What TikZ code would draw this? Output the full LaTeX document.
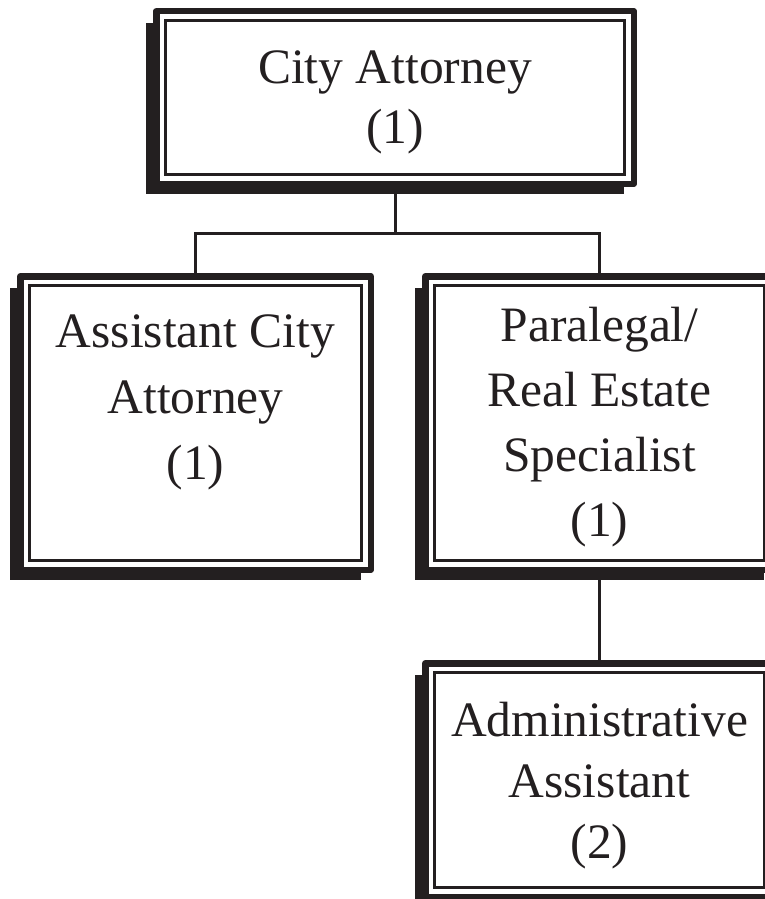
\documentclass[tikz,border=0pt]{standalone}
\usepackage{fontspec}
\setmainfont{Liberation Serif}
\usetikzlibrary{backgrounds}
\definecolor{ink}{HTML}{231F20}

\newcommand{\boxtext}[1]{%
  {\renewcommand{\arraystretch}{1}\begin{tabular}[t]{@{}c@{}}#1\end{tabular}}}

\begin{document}
\begin{tikzpicture}[x=1pt,y=-1pt,
  frame/.style={draw=ink, line width=6.5pt, fill=white, line join=round,
                inner sep=0pt, outer sep=0pt, rectangle},
  innerframe/.style={draw=ink, line width=3pt},
  shade/.style={fill=ink},
  link/.style={draw=ink, line width=3pt},
  label/.style={text=ink, anchor=base, inner sep=0pt}]

\useasboundingbox (0,0) rectangle (765,899);
\clip (0,0) rectangle (765,899);

% outer frames of the four positions
\node[frame, minimum width=477.5pt, minimum height=172.5pt] (ca)  at (395,97.5) {};
\node[frame, minimum width=350.5pt, minimum height=293.5pt] (aca) at (195.5,423) {};
\node[frame, minimum width=348.5pt, minimum height=293.5pt] (pra) at (599.5,423) {};
\node[frame, minimum width=348.5pt, minimum height=233.5pt] (adm) at (599.5,780) {};

% drop shadows and inner frames
\foreach \b in {ca,aca,pra,adm}{
  \begin{pgfonlayer}{background}
    \fill[shade] ([shift={(-10.25,11.75)}]\b.north west) rectangle ([shift={(-9.75,10.25)}]\b.south east);
  \end{pgfonlayer}
  \draw[innerframe] ([shift={(9.25,9.25)}]\b.north west) rectangle ([shift={(-9.25,-9.25)}]\b.south east);
}

% reporting lines
\coordinate (split) at (395,233.5);
\begin{pgfonlayer}{background}
  \draw[link] (ca.south) -- (split);
  \draw[link] (aca.north) |- (split) -| (pra.north);
  \draw[link] (pra.south) -- (adm.north);
\end{pgfonlayer}

% titles
\node[label, font=\fontsize{49.5}{60}\selectfont] (tca) at (395,83)
  {\boxtext{City Attorney\\(1)}};
\node[label, font=\fontsize{49.5}{66}\selectfont] (taca) at (195.5,347)
  {\boxtext{Assistant City\\Attorney\\(1)}};
\node[label, font=\fontsize{49.5}{65}\selectfont] (tpra) at (599.5,341)
  {\boxtext{Paralegal/\\Real Estate\\Specialist\\(1)}};
\node[label, font=\fontsize{49.5}{61}\selectfont] (tadm) at (599.5,736)
  {\boxtext{Administrative\\Assistant\\(2)}};
\end{tikzpicture}
\end{document}
